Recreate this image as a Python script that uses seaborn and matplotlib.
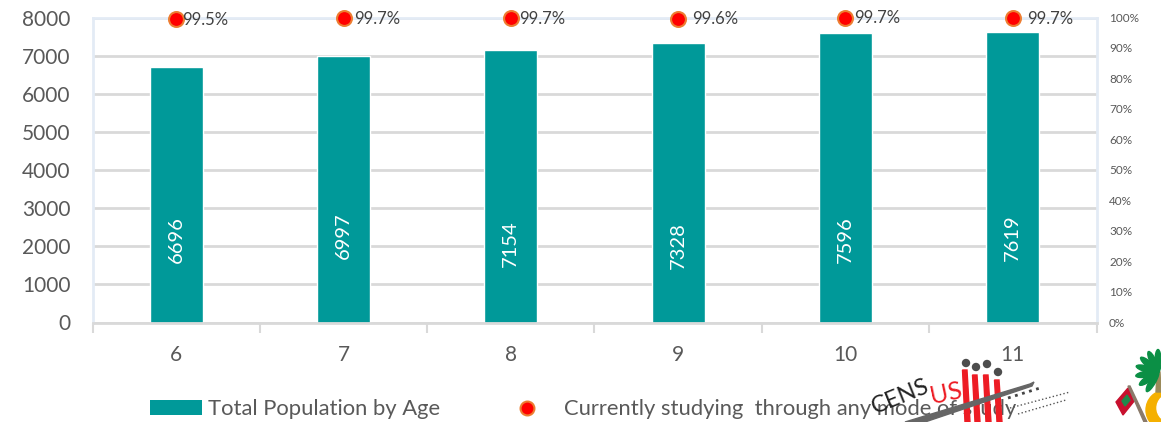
import matplotlib
matplotlib.use('Agg')
import math
import matplotlib.pyplot as plt
from matplotlib.lines import Line2D
from matplotlib.patches import Patch, Polygon, Circle, Ellipse
import pandas as pd
import seaborn as sns

ages = ['6', '7', '8', '9', '10', '11']
population = [6696, 6997, 7154, 7328, 7596, 7619]
studying = [99.5, 99.7, 99.7, 99.6, 99.7, 99.7]
pct_labels = ['99.5%', '99.7%', '99.7%', '99.6%', '99.7%', '99.7%']

TEAL = '#009999'
GREY = '#595959'

sns.set_theme(style='white')
plt.rcParams['font.family'] = ['Lato', 'DejaVu Sans']

W, H = 1161, 422
fig = plt.figure(figsize=(W / 100, H / 100), dpi=100)
ax = fig.add_axes([92.5 / W, 1 - 322.5 / H, (1096.5 - 92.5) / W, (322.5 - 17.5) / H])

df = pd.DataFrame({'age': ages, 'population': population, 'studying': studying})

sns.barplot(data=df, x='age', y='population', color=TEAL, saturation=1, width=0.315, ax=ax)
ax.set_xlim(-0.5, 5.5)
ax.set_ylim(0, 8000)
ax.set_yticks(range(0, 8001, 1000))
ax.set_xlabel('')
ax.set_ylabel('')
ax.yaxis.grid(True, color='#d9d9d9', lw=2)
ax.set_axisbelow(True)
ax.tick_params(axis='y', labelsize=15, labelcolor=GREY, length=0, pad=16)
ax.tick_params(axis='x', labelsize=15, labelcolor=GREY, length=0, pad=16)

# ticks sit between the categories
ax.set_xticks([i - 0.5 for i in range(7)], minor=True)
ax.tick_params(axis='x', which='minor', length=7, width=1.5, color='#d9d9d9', bottom=True)

for spine in ['left', 'top', 'right']:
    ax.spines[spine].set_color('#e3ebf5')
    ax.spines[spine].set_linewidth(2)
ax.spines['bottom'].set_color('#d9d9d9')
ax.spines['bottom'].set_linewidth(2)

# population labels inside the bars, roughly a third of the way up
label_heights = [2180, 2280, 2060, 2030, 2180, 2230]
for i, value in enumerate(population):
    ax.text(i, label_heights[i], str(value), rotation=90, ha='center', va='center',
            color='white', fontsize=14.5)

# secondary axis for the share studying
ax2 = ax.twinx()
ax2.set_ylim(0, 100)
sns.scatterplot(data=df, x='age', y='studying', ax=ax2, s=115, color='#ff0000',
                edgecolor='#ed7d31', linewidth=1.5, clip_on=False, zorder=5, legend=False)
ax2.set_xlabel('')
ax2.set_ylabel('')
ax2.set_yticks(range(0, 101, 10))
ax2.set_yticklabels([f'{v}%' for v in range(0, 101, 10)])
ax2.tick_params(axis='y', labelsize=8.5, labelcolor=GREY, length=0, pad=9)
for spine in ax2.spines.values():
    spine.set_visible(False)

# label offsets differ per point in the original
offsets = [6, 11, 8, 14, 9, 14]
raised = [0, 0, 0, 0, 1, 0]
for i, label in enumerate(pct_labels):
    ax2.annotate(label, (i, studying[i]), xytext=(offsets[i] * 0.72, raised[i] - 0.5),
                 textcoords='offset points', ha='left', va='center',
                 fontsize=12, color='#404040', clip_on=False, zorder=6)

# two separate legends so the gap after each handle can differ
legend_style = dict(loc='lower left', frameon=False, fontsize=15.8, labelcolor=GREY,
                    handlelength=2.4, handleheight=0.7)
fig.legend([Patch(facecolor=TEAL, edgecolor='none')], ['Total Population by Age'],
           bbox_to_anchor=(130 / W, -17 / H), handletextpad=0.25, **legend_style)
fig.legend([Line2D([], [], marker='o', ls='none', ms=10, mfc='#ff0000', mec='#ed7d31', mew=1.5)],
           ['Currently studying  through any mode of study'],
           bbox_to_anchor=(481 / W, -17 / H), handletextpad=0.5, **legend_style)

# census and flag logos in the bottom right corner, drawn in pixel coordinates
logo = fig.add_axes([0, 0, 1, 1], zorder=10)
logo.set_xlim(0, W)
logo.set_ylim(H, 0)
logo.axis('off')
logo.text(876, 418, 'CENS', rotation=22, fontsize=17, color='#222222', ha='left', va='bottom',
          rotation_mode='anchor')
logo.text(933, 408, 'US', rotation=12, fontsize=18, color='#ed1c24', ha='left', va='bottom',
          rotation_mode='anchor')
for x0, top in [(965, 370), (975, 375), (986, 375), (997, 380)]:
    logo.add_patch(Polygon([(x0 - 2.5, top), (x0 + 2, top), (x0 + 5, 422), (x0 - 0, 422)], color='#ed1c24'))
for x0, y0 in [(966, 363), (976, 367), (987, 364), (998, 372)]:
    logo.add_patch(Circle((x0, y0), 3.5, color='#4d4d4d'))
logo.add_patch(Polygon([(905, 422), (1030, 384), (1034, 382), (1032, 386), (925, 422)], color='#666666'))
logo.plot([1010, 1070], [408, 392], color='#555555', lw=1, ls=':')
logo.plot([1018, 1066], [414, 400], color='#555555', lw=1, ls=':')
logo.plot([1008, 1040], [398, 388], color='#444444', lw=2, ls=':')

# flag
logo.add_patch(Polygon([(1116, 402), (1128, 388), (1135, 400), (1123, 415)], color='#c8102e'))
logo.add_patch(Polygon([(1122, 401), (1127, 395), (1130, 400), (1125, 406)], color='#1f8a4c'))
logo.add_patch(Polygon([(1128, 386), (1130, 386), (1147, 422), (1144, 422)], color='#8a7a6a'))

# palm and crescent
logo.add_patch(Circle((1166, 410), 20, color='#f5b000'))
logo.add_patch(Circle((1171, 408), 14, color='white'))
logo.add_patch(Polygon([(1157, 372), (1160, 372), (1161, 392), (1156, 392)], color='#9a8a5a'))
for ang in [-165, -140, -115, -90, 170, 145, 120]:
    rad = math.radians(ang)
    logo.add_patch(Ellipse((1158 + 11 * math.cos(rad), 372 + 11 * math.sin(rad)), 23, 6,
                           angle=ang, color='#0b8f45'))

fig.savefig('out.png', dpi=100)
